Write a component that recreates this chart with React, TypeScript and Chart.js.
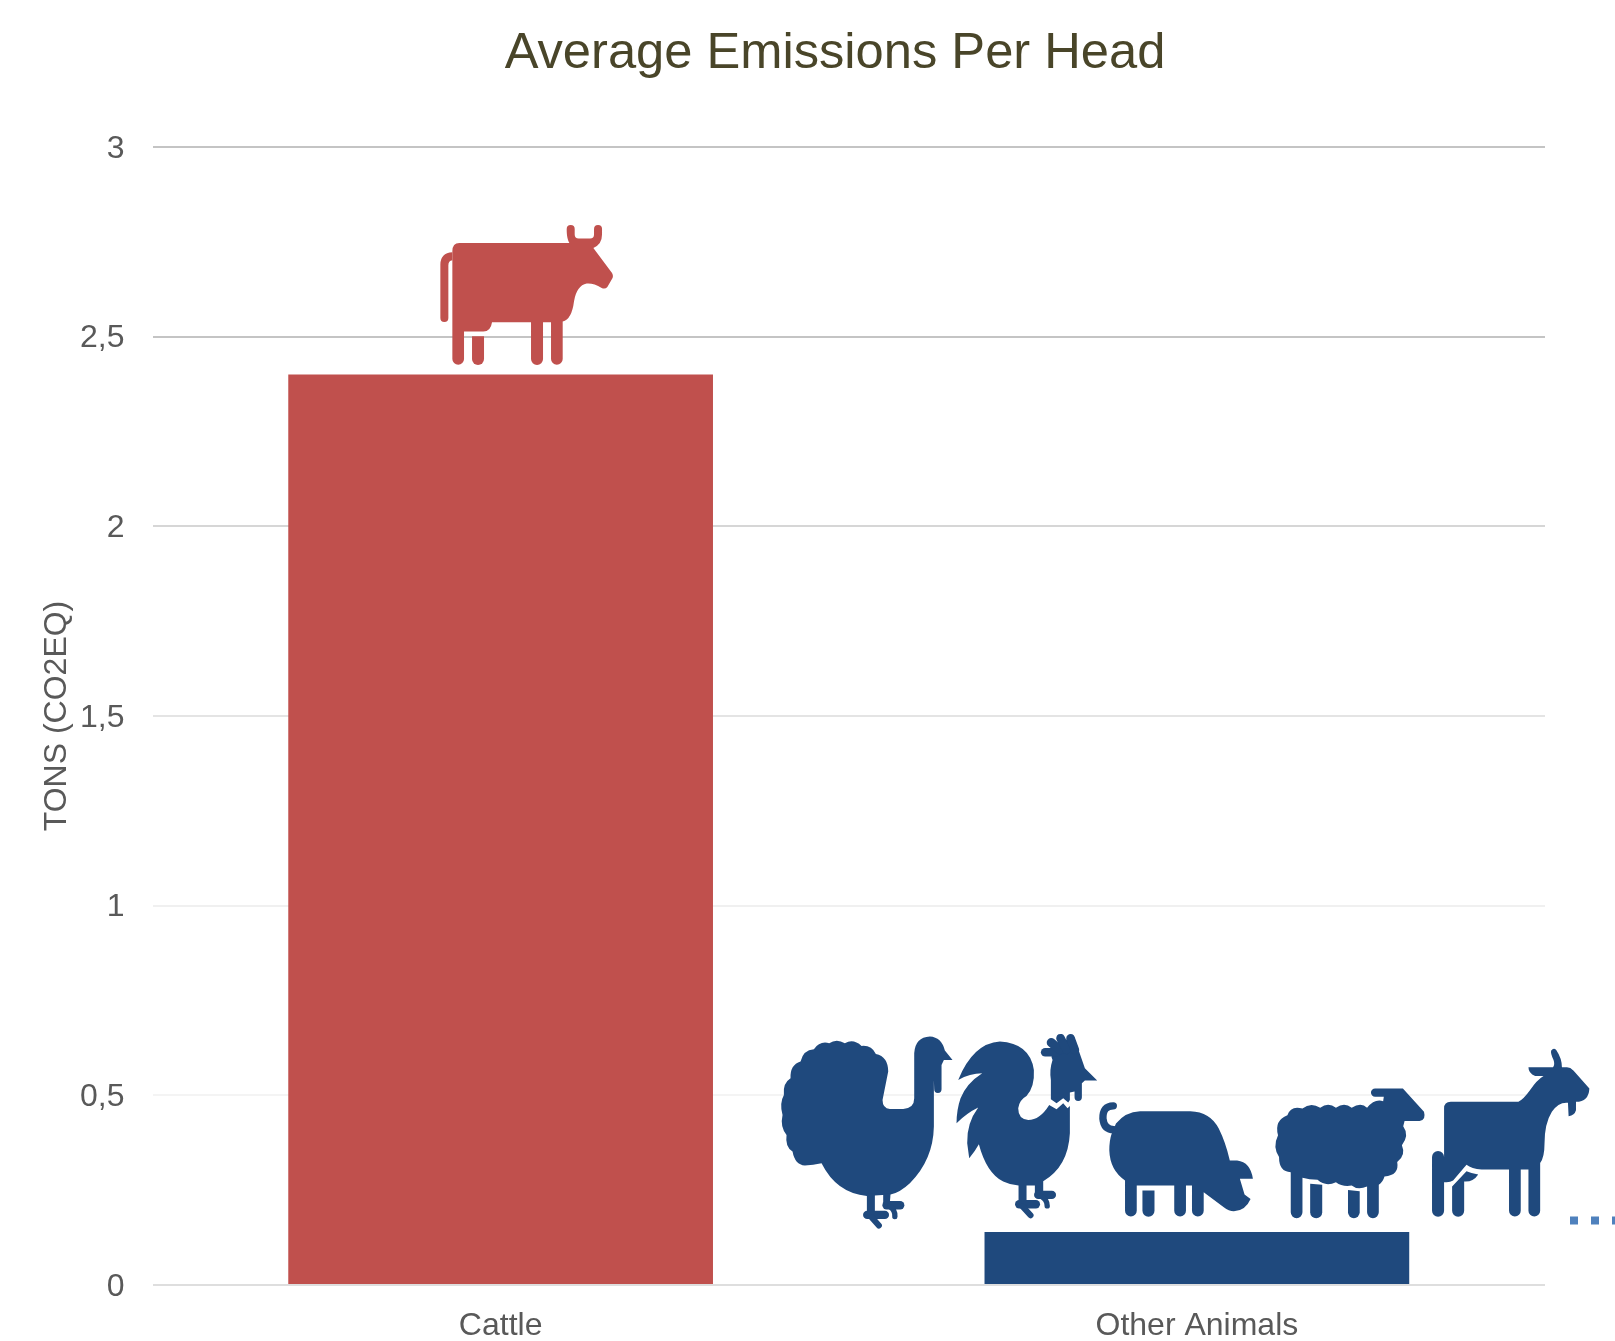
import React, { useEffect, useRef } from "react";
import { Chart, registerables } from "chart.js";

Chart.register(...registerables);

// Chart values
const categories = ["Cattle", "Other Animals"];
const emissions = [2.4, 0.14];
const barColors = ["#c0504d", "#1f497d"];
const dottedLevel = [0.17];
const gridShades: Record<string, string> = {
  "3": "#c4c4c4",
  "2.5": "#c4c4c4",
  "2": "#d6d6d6",
  "1.5": "#e4e4e4",
  "1": "#f0f0f0",
  "0.5": "#f4f4f4",
  "0": "#dedede",
};

type Icon = {
  bar: number;
  dx: number;
  dy: number;
  scale: number;
  fills: string[];
  strokes?: { d: string; w: number }[];
};

const FINE = 1 / 3;
const WIDE = 1 / 2.987;

// Animal silhouettes, each anchored to the centre and top of its bar
const cow: Icon = {
  bar: 0,
  dx: -100.6,
  dy: -175,
  scale: FINE,
  fills: [
    "M178 130 L508 130 C503 120 500 110 500 88 A12 12 0 0 1 524 88 L524 105 Q524 117 536 117 L570 117 Q582 117 582 105 L582 88 A12 12 0 0 1 606 88 L606 105 Q606 135 580 145 L636 220 Q642 230 635 240 L622 262 Q615 270 605 265 Q580 250 560 252 Q530 258 522 305 Q515 360 488 366 L488 478 A17.5 17.5 0 0 1 453 478 L453 368 L429 368 L429 478 A18 18 0 0 1 393 478 L393 368 L276 368 Q272 396 250 396 L192 396 L192 478 A17.5 17.5 0 0 1 157 478 L157 155 Q157 130 178 130 Z",
    "M216 410 L252 410 L252 478 A18 18 0 0 1 216 478 Z",
    "M121 355 L121 195 Q121 160 157 158 L157 182 Q145 184 145 197 L145 355 A12 12 0 0 1 121 355 Z",
  ],
};

const turkey: Icon = {
  bar: 1,
  dx: -427,
  dy: -212,
  scale: FINE,
  fills: [
    "M433 100 Q436 52 480 50 Q515 52 525 92 L548 120 L522 120 L515 135 L515 208 A11 11 0 0 1 493 208 L492 180 L492 320 Q490 420 420 490 Q390 518 362 524 L291 528 Q200 520 155 430 Q130 435 105 437 Q75 435 68 395 Q45 380 50 345 Q30 320 38 285 Q28 250 42 225 Q38 190 62 175 Q60 135 92 125 Q100 90 132 88 Q150 62 178 70 Q200 55 225 70 Q250 55 275 78 Q305 75 318 102 Q355 110 355 155 L338 240 Q338 265 360 267 L400 267 Q433 265 433 235 Z",
    "M291 520 L315 520 L315 575 L291 575 Z",
    "M340 520 L362 520 L360 550 L340 550 Z",
  ],
  strokes: [
    { d: "M292 585 L345 585", w: 25 },
    { d: "M305 592 L327 617", w: 18 },
    { d: "M350 556 L391 556", w: 25 },
    { d: "M360 560 Q376 570 375 590", w: 16 },
  ],
};

const rooster: Icon = {
  bar: 1,
  dx: -427,
  dy: -212,
  scale: FINE,
  fills: [
    "M845 112 L850 75 L872 65 L902 55 L912 50 L945 145 L982 182 L945 182 L936 190 L936 232 A11 11 0 0 1 914 232 L914 215 L900 218 L900 240 L895 248 L880 235 L860 250 L843 238 L843 180 Q838 150 848 120 Z",
    "M900 258 L900 340 Q895 440 820 484 L820 520 L795 520 L795 497 L770 497 L770 550 L746 550 L746 497 Q720 495 700 485 Q650 460 627 373 Q615 395 598 415 L592 370 Q590 310 625 263 Q590 280 560 310 Q560 270 572 235 Q590 190 637 160 Q600 160 565 180 Q610 70 690 65 Q780 70 792 150 Q795 200 770 228 Q748 240 745 265 Q745 298 775 300 Q810 300 838 255 L860 268 L880 250 L893 265 Z",
  ],
  strokes: [
    { d: "M826 97 L860 97", w: 26 },
    { d: "M844 68 L870 90", w: 27 },
    { d: "M872 55 L890 90", w: 26 },
    { d: "M902 55 L915 90", w: 26 },
    { d: "M748 553 L798 553", w: 25 },
    { d: "M758 560 L782 586", w: 18 },
    { d: "M805 525 L846 525", w: 25 },
    { d: "M815 530 Q832 540 832 558", w: 16 },
  ],
};

const pig: Icon = {
  bar: 1,
  dx: -107,
  dy: -192,
  scale: WIDE,
  fills: [
    "M78 250 Q105 215 150 213 L300 213 Q360 215 385 265 Q405 305 418 360 L440 360 Q480 365 487 415 L448 415 L462 462 L480 475 Q465 510 430 512 Q415 512 400 500 L340 455 L340 510 A17.5 17.5 0 0 1 305 510 L305 435 L287 435 L287 510 A17.5 17.5 0 0 1 252 510 L252 435 L140 435 L140 510 A17.5 17.5 0 0 1 105 510 L105 420 Q60 390 58 330 Q58 300 65 280 Z",
    "M157 450 L193 450 L193 510 A18 18 0 0 1 157 510 Z",
  ],
  strokes: [{ d: "M70 197 Q38 197 39 235 Q42 268 72 268", w: 22 }],
};

const sheep: Icon = {
  bar: 1,
  dx: -107,
  dy: -192,
  scale: WIDE,
  fills: [
    "M590 225 Q600 195 635 205 Q660 185 688 203 Q712 185 735 203 Q760 185 782 203 Q810 185 828 203 Q850 175 876 183 L878 170 L852 170 A12.5 12.5 0 0 1 852 145 L935 145 L998 215 Q1005 240 985 242 L940 242 L936 258 Q955 285 932 315 Q945 345 918 365 Q925 405 880 408 Q875 425 863 433 L863 515 A17.5 17.5 0 0 1 828 515 L828 438 Q800 450 782 435 Q755 440 735 425 Q705 440 680 418 Q655 418 635 412 L635 515 A17.5 17.5 0 0 1 600 515 L600 395 Q565 395 565 350 Q545 320 562 285 Q550 240 590 225 Z",
    "M658 430 L694 433 L694 515 A18 18 0 0 1 658 515 Z",
    "M771 448 L806 452 L806 515 A17.5 17.5 0 0 1 771 515 Z",
  ],
};

const goat: Icon = {
  bar: 1,
  dx: -107,
  dy: -192,
  scale: WIDE,
  fills: [
    "M1310 82 L1383 82 Q1390 75 1385 60 Q1375 40 1378 32 Q1385 22 1393 30 Q1410 55 1410 82 L1425 82 Q1435 82 1445 92 L1492 145 Q1490 185 1452 185 L1452 210 Q1448 225 1430 228 L1428 188 Q1400 185 1380 215 Q1358 250 1358 310 Q1358 350 1345 368 L1345 510 A17.5 17.5 0 0 1 1310 510 L1310 387 L1287 387 L1287 510 A17.5 17.5 0 0 1 1252 510 L1252 387 L1170 387 Q1140 385 1125 373 L1085 420 Q1075 427 1058 425 L1058 510 A18 18 0 0 1 1022 510 L1022 350 A18 18 0 0 1 1058 350 L1058 205 Q1058 185 1078 185 L1280 185 Q1295 178 1315 150 Q1335 120 1355 108 L1330 108 Q1310 100 1310 82 Z",
    "M1082 438 L1125 392 Q1145 400 1160 402 Q1145 425 1118 423 L1118 510 A18 18 0 0 1 1082 510 Z",
  ],
};

const icons = [cow, turkey, rooster, pig, sheep, goat];

const iconPlugin = {
  id: "animalIcons",
  afterDatasetsDraw(chart: any) {
    const { ctx } = chart;
    const bars = chart.getDatasetMeta(0).data;
    ctx.save();
    ctx.lineCap = "round";
    ctx.lineJoin = "round";
    for (const icon of icons) {
      const bar = bars[icon.bar];
      const color = barColors[icon.bar];
      ctx.save();
      ctx.translate(bar.x + icon.dx, bar.y + icon.dy);
      ctx.scale(icon.scale, icon.scale);
      ctx.fillStyle = color;
      ctx.strokeStyle = color;
      for (const d of icon.fills) ctx.fill(new Path2D(d));
      for (const s of icon.strokes ?? []) {
        ctx.lineWidth = s.w;
        ctx.stroke(new Path2D(s.d));
      }
      ctx.restore();
    }
    ctx.restore();
  },
};

// Dotted level running off the right edge, and the heading
const overlayPlugin = {
  id: "overlay",
  afterDraw(chart: any) {
    const { ctx, chartArea, scales, width } = chart;
    const y = scales.y.getPixelForValue(dottedLevel[0]);
    ctx.save();
    ctx.strokeStyle = "#4f81bd";
    ctx.lineWidth = 8;
    ctx.setLineDash([8, 13]);
    ctx.beginPath();
    ctx.moveTo(chartArea.right + 25, y);
    ctx.lineTo(width, y);
    ctx.stroke();
    ctx.setLineDash([]);
    ctx.fillStyle = "#494529";
    ctx.font = '50.67px "Liberation Sans"';
    ctx.textAlign = "center";
    ctx.textBaseline = "middle";
    ctx.fillText("Average Emissions Per Head", 835, 54);
    ctx.restore();
  },
};

export default function App() {
  const ref = useRef<HTMLCanvasElement>(null);

  useEffect(() => {
    const chart = new Chart(ref.current!, {
      type: "bar",
      data: {
        labels: categories,
        datasets: [
          {
            data: emissions,
            backgroundColor: barColors,
            categoryPercentage: 0.61,
            barPercentage: 1,
          },
        ],
      },
      plugins: [iconPlugin, overlayPlugin],
      options: {
        animation: false,
        responsive: false,
        layout: { padding: { top: 147, right: 70, bottom: 0, left: 0 } },
        plugins: { legend: { display: false }, title: { display: false }, tooltip: { enabled: false } },
        scales: {
          x: {
            grid: { display: false },
            border: { display: false },
            afterFit(scale: any) {
              scale.height = 56;
            },
            ticks: {
              color: "#595959",
              font: { family: '"Liberation Sans"', size: 32 },
              padding: 14,
              maxRotation: 0,
            },
          },
          y: {
            min: 0,
            max: 3,
            border: { display: false },
            grid: {
              drawTicks: false,
              lineWidth: 2,
              color: (c: any) => gridShades[String(c.tick.value)] ?? "#e0e0e0",
            },
            afterFit(scale: any) {
              scale.width = 152.5;
            },
            ticks: {
              stepSize: 0.5,
              color: "#595959",
              font: { family: '"Liberation Sans"', size: 32 },
              padding: 28,
              labelOffset: 2,
              callback: (v: any) => String(v).replace(".", ","),
            },
            title: {
              display: true,
              text: "TONS (CO2EQ)",
              color: "#595959",
              font: { family: '"Liberation Sans"', size: 32 },
              padding: { top: 38, bottom: 0 },
            },
          },
        },
      },
    });
    return () => chart.destroy();
  }, []);

  return (
    <div style={{ position: "absolute", left: 0, top: 0, width: 1615, height: 1341, background: "#fff" }}>
      <canvas ref={ref} width={1615} height={1341} style={{ display: "block" }} />
    </div>
  );
}
